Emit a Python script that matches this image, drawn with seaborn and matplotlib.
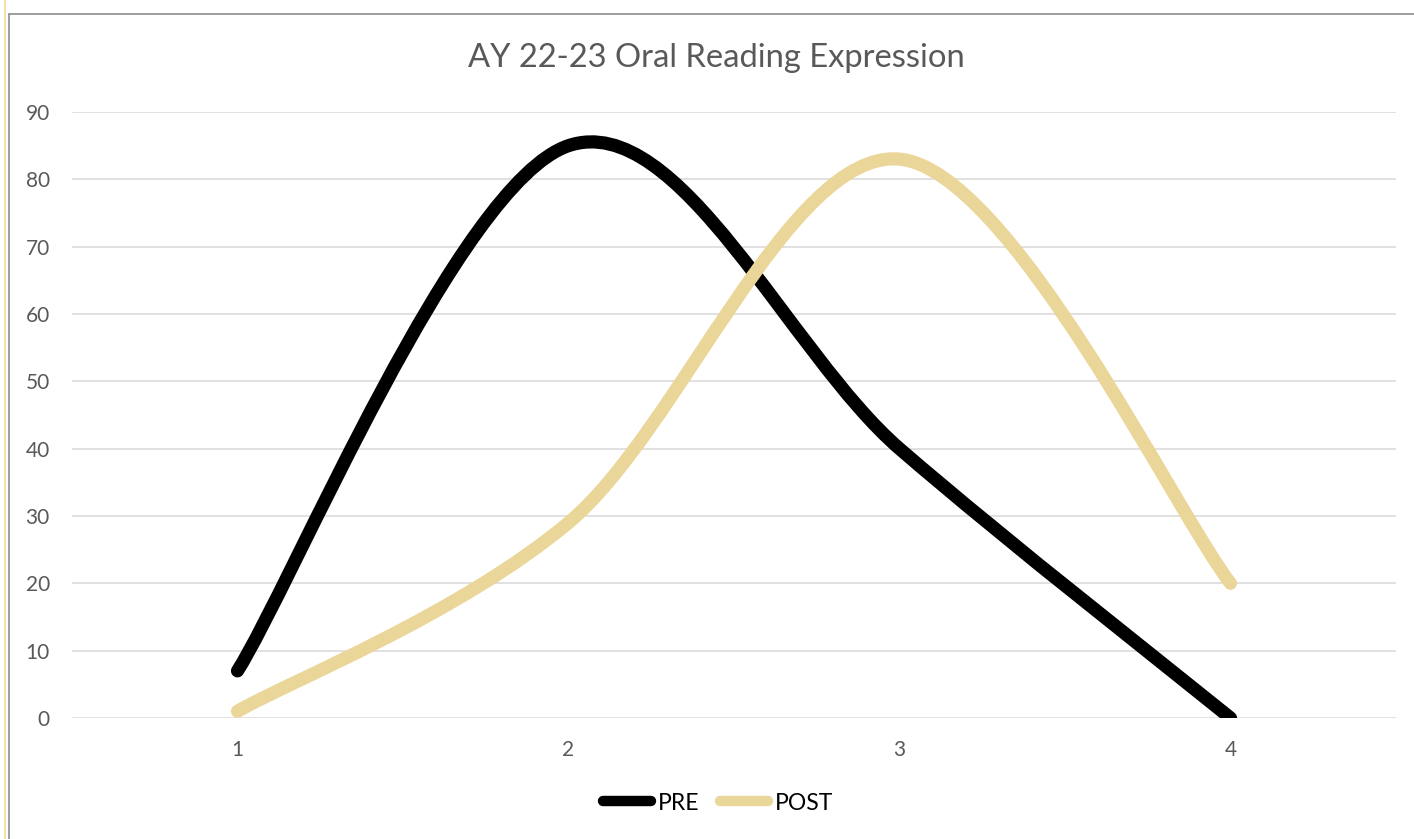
import numpy as np
import pandas as pd
import seaborn as sns
import matplotlib
matplotlib.use("Agg")
import matplotlib.pyplot as plt
from matplotlib.path import Path
from matplotlib.patches import PathPatch
from matplotlib.lines import Line2D

# ---- data ----
categories = [1, 2, 3, 4]
pre_values = [7, 85, 40, 0]
post_values = [1, 29, 83, 20]
series_names = ["PRE", "POST"]
series_colors = ["#000000", "#EBD699"]
title_text = "AY 22-23 Oral Reading Expression"
y_ticks = [0, 10, 20, 30, 40, 50, 60, 70, 80, 90]

sns.set_theme(style="white")
plt.rcParams["font.family"] = ["Lato", "DejaVu Sans"]

df = pd.DataFrame({
    "x": categories * 2,
    "y": pre_values + post_values,
    "series": ["PRE"] * 4 + ["POST"] * 4,
})

fig = plt.figure(figsize=(14.14, 8.39), dpi=100)
ax = fig.add_axes([72 / 1414, 1 - 718 / 839, (1396 - 72) / 1414, (718 - 112) / 839])

# establish scales via seaborn (invisible raw lines)
sns.lineplot(data=df, x="x", y="y", hue="series", palette=dict(zip(series_names, series_colors)),
             linewidth=0, legend=False, ax=ax)


def excel_smooth_path(xs, ys):
    """Excel-style smoothed line: cubic Bezier through points (Catmull-Rom, factor 1/6)."""
    pts = np.column_stack([xs, ys]).astype(float)
    n = len(pts)
    verts = [pts[0]]
    codes = [Path.MOVETO]
    for i in range(n - 1):
        p0 = pts[i - 1] if i > 0 else pts[i]
        p1 = pts[i]
        p2 = pts[i + 1]
        p3 = pts[i + 2] if i + 2 < n else pts[i + 1]
        c1 = p1 + (p2 - p0) / 6.0
        c2 = p2 - (p3 - p1) / 6.0
        verts += [c1, c2, p2]
        codes += [Path.CURVE4] * 3
    return Path(verts, codes)


for z, (name, vals, col) in enumerate(zip(series_names, [pre_values, post_values], series_colors)):
    patch = PathPatch(excel_smooth_path(categories, vals), facecolor="none", edgecolor=col,
                      lw=9.5, capstyle="round", joinstyle="round", zorder=2 + z)
    ax.add_patch(patch)

ax.set_xlim(0.5, 4.5)
ax.set_ylim(0, 90)
ax.set_xticks(categories)
ax.set_xticklabels([str(c) for c in categories])
ax.set_yticks(y_ticks)
ax.set_xlabel("")
ax.set_ylabel("")
for s in ax.spines.values():
    s.set_visible(False)
ax.grid(axis="y", color="#d9d9d9", lw=1.1)
ax.grid(axis="x", visible=False)
ax.set_axisbelow(True)
ax.tick_params(axis="y", length=0, pad=16, labelsize=15, labelcolor="#595959")
ax.tick_params(axis="x", length=0, pad=16, labelsize=15, labelcolor="#595959")

fig.text(716 / 1414, 1 - 58 / 839, title_text, ha="center", va="center",
         fontsize=23.6, color="#595959")

handles = [Line2D([0], [0], color=c, lw=7.5, solid_capstyle="round") for c in series_colors]
fig.legend(handles, series_names, loc="center", bbox_to_anchor=(718 / 1414, 1 - 803 / 839),
           ncol=2, frameon=False, fontsize=16.5, handlelength=2.1, handletextpad=0.3,
           columnspacing=0.9, labelcolor="#000000")

# chart frame decorations
fig.add_artist(Line2D([4.5 / 1414, 4.5 / 1414], [0, 1], color="#F0DC9A", lw=1.2))
fig.add_artist(Line2D([8.5 / 1414, 8.5 / 1414], [0, 1 - 13.5 / 839], color="#8c8c8c", lw=1.2))
fig.add_artist(Line2D([8.5 / 1414, 1], [1 - 13.5 / 839, 1 - 13.5 / 839], color="#8c8c8c", lw=1.2))

fig.savefig("out.png", dpi=100, facecolor="white")
